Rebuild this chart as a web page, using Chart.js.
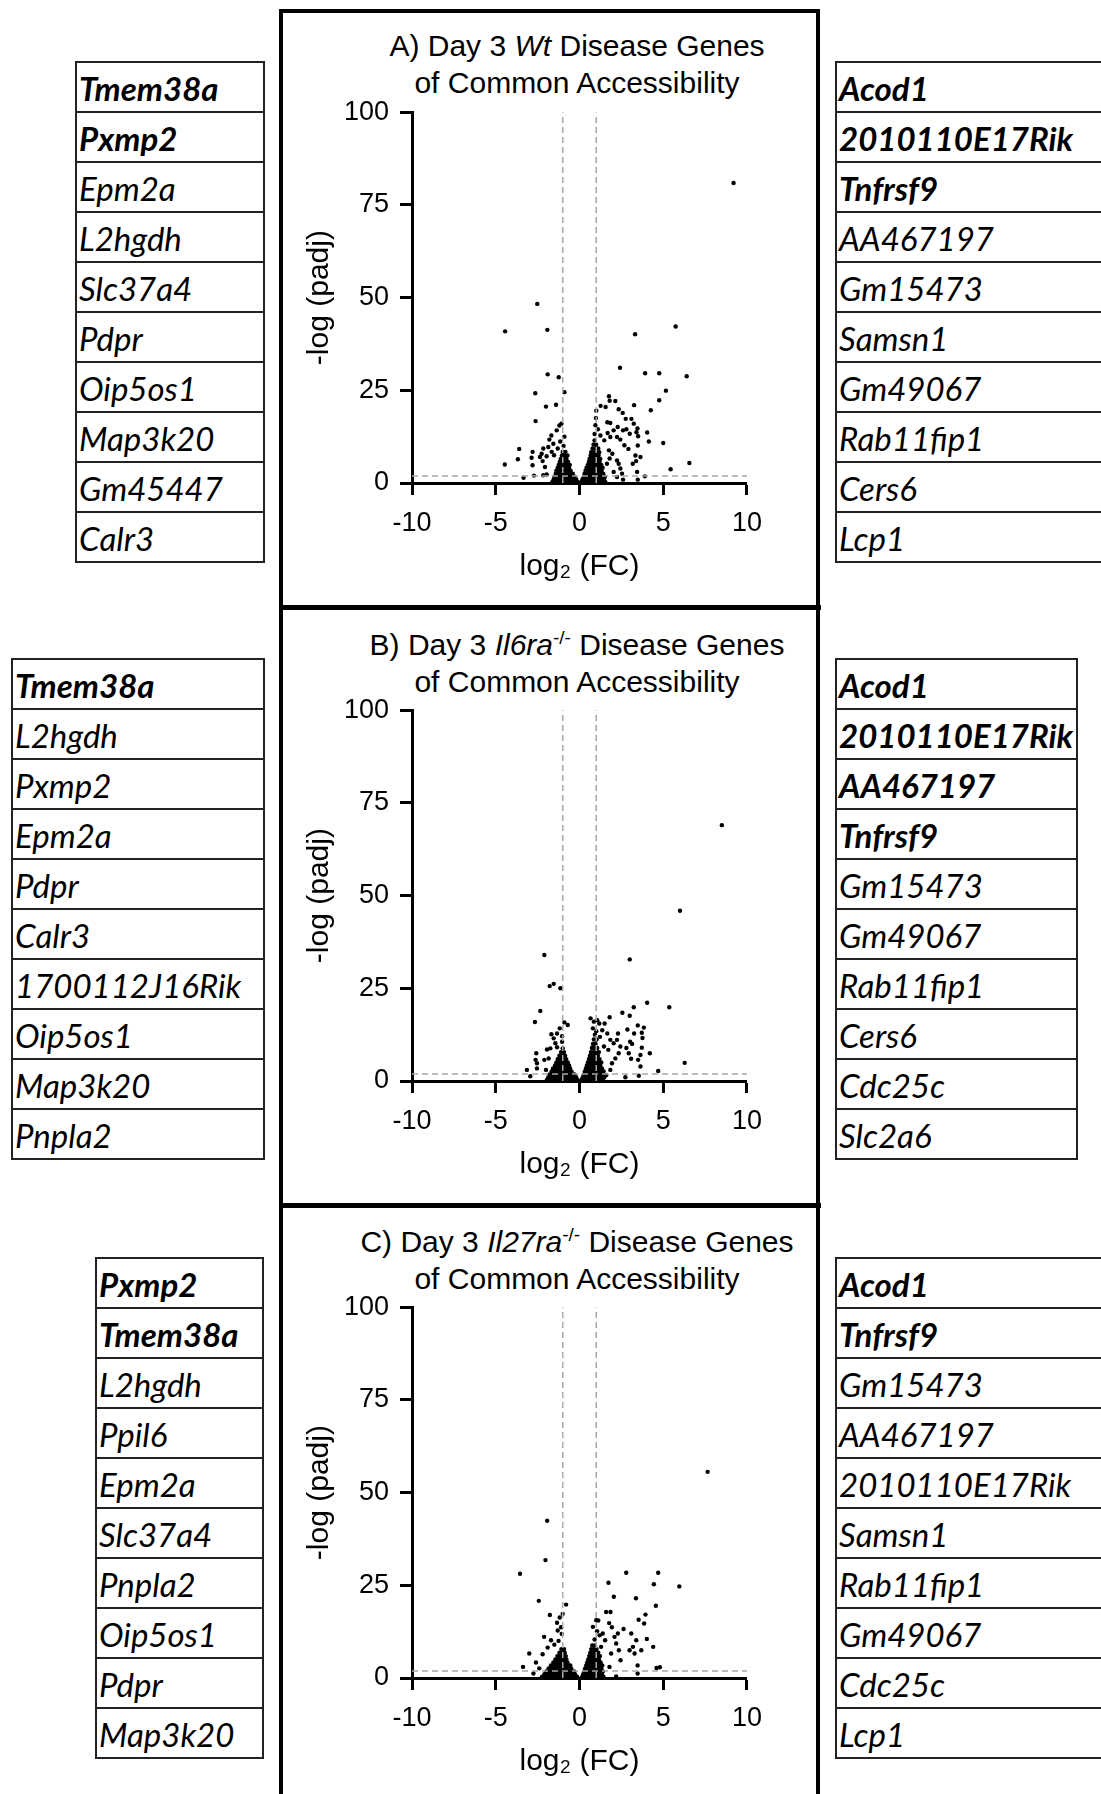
<!DOCTYPE html>
<html>
<head>
<meta charset="utf-8">
<script src="https://cdn.jsdelivr.net/npm/chart.js@4.4.1/dist/chart.umd.min.js"></script>
<style>
  html, body { margin: 0; padding: 0; background: #fff; }
  body { width: 1101px; height: 1794px; position: relative; overflow: hidden; font-family: "Liberation Sans", Arial, sans-serif; }
  .frame { position: absolute; left: 279px; top: 9px; width: 533px; height: 1800px; border: 4.5px solid #000; border-bottom: none; }
  .divider { position: absolute; left: 279px; width: 542px; height: 4.5px; background: #000; }
  .wrap { position: absolute; left: 300px; width: 474px; height: 504px; }
  .title { position: absolute; left: 327px; width: 500px; text-align: center; font-size: 30px; line-height: 37px; color: #000; white-space: nowrap; }
  .title sup { font-size: 19px; line-height: 0; }
  .genes { position: absolute; border: 2px solid #222; border-bottom: none; font-family: Lato, "Open Sans", sans-serif; font-style: italic; font-size: 33px; color: #000; overflow: hidden; }
  .genes div { height: 50px; line-height: 50px; border-bottom: 2px solid #222; box-sizing: border-box; padding-left: 2px; white-space: nowrap; }
  .genes div.b { font-weight: bold; }
</style>
</head>
<body>
<div class="frame"></div>
<div class="divider" style="top:605px"></div>
<div class="divider" style="top:1203px"></div>

<div class="title" style="top:27px">A) Day 3 <i>Wt</i> Disease Genes<br>of Common Accessibility</div>
<div class="title" style="top:626px">B) Day 3 <i>Il6ra</i><sup>-/-</sup> Disease Genes<br>of Common Accessibility</div>
<div class="title" style="top:1223px">C) Day 3 <i>Il27ra</i><sup>-/-</sup> Disease Genes<br>of Common Accessibility</div>

<div class="wrap" style="top:85px"><canvas id="chartA"></canvas></div>
<div class="wrap" style="top:683px"><canvas id="chartB"></canvas></div>
<div class="wrap" style="top:1280px"><canvas id="chartC"></canvas></div>

<div id="tblAL" class="genes" style="left:75px; top:61px; width:186px"></div>
<div id="tblAR" class="genes" style="left:835px; top:61px; width:300px"></div>
<div id="tblBL" class="genes" style="left:11px; top:658px; width:250px"></div>
<div id="tblBR" class="genes" style="left:835px; top:658px; width:239px"></div>
<div id="tblCL" class="genes" style="left:95px; top:1257px; width:165px"></div>
<div id="tblCR" class="genes" style="left:835px; top:1257px; width:300px"></div>

<script>
// gene lists next to each panel (first n are bold)
const genesAL = ['Tmem38a', 'Pxmp2', 'Epm2a', 'L2hgdh', 'Slc37a4', 'Pdpr', 'Oip5os1', 'Map3k20', 'Gm45447', 'Calr3'];
const genesAR = ['Acod1', '2010110E17Rik', 'Tnfrsf9', 'AA467197', 'Gm15473', 'Samsn1', 'Gm49067', 'Rab11fip1', 'Cers6', 'Lcp1'];
const genesBL = ['Tmem38a', 'L2hgdh', 'Pxmp2', 'Epm2a', 'Pdpr', 'Calr3', '1700112J16Rik', 'Oip5os1', 'Map3k20', 'Pnpla2'];
const genesBR = ['Acod1', '2010110E17Rik', 'AA467197', 'Tnfrsf9', 'Gm15473', 'Gm49067', 'Rab11fip1', 'Cers6', 'Cdc25c', 'Slc2a6'];
const genesCL = ['Pxmp2', 'Tmem38a', 'L2hgdh', 'Ppil6', 'Epm2a', 'Slc37a4', 'Pnpla2', 'Oip5os1', 'Pdpr', 'Map3k20'];
const genesCR = ['Acod1', 'Tnfrsf9', 'Gm15473', 'AA467197', '2010110E17Rik', 'Samsn1', 'Rab11fip1', 'Gm49067', 'Cdc25c', 'Lcp1'];
const boldCount = { AL: 2, AR: 3, BL: 1, BR: 4, CL: 2, CR: 2 };

// axes
const xTicks = [-10, -5, 0, 5, 10];
const yTicks = [0, 25, 50, 75, 100];
const fcCut = [-1, 1];
const padjCut = 1.9;

// panel A: [log2 FC, -log padj]
const aOutliers = [
  [9.2, 80.9], [-4.44, 40.9], [-2.52, 48.3], [-1.92, 41.3], [-1.9, 29.3], [-1.24, 28.5], [-0.9, 24.5],
  [-2.64, 24.2], [-2.0, 20.6], [-1.4, 21.1], [-2.62, 16.7], [3.32, 40.1], [5.74, 42.2], [2.42, 31.1],
  [3.92, 29.6], [4.76, 29.6], [6.4, 28.8], [5.16, 24.9], [4.76, 22.3], [4.26, 19.6], [3.26, 21.0],
  [4.04, 13.6], [4.14, 11.2], [5.0, 10.8], [5.44, 3.7], [6.56, 5.4], [3.9, 1.8], [-4.46, 5.0],
  [-3.6, 9.2], [-3.68, 6.4], [-3.34, 1.4],
  [1.76, 23.4], [1.8, 22.2], [2.14, 22.1], [1.56, 20.5], [1.26, 20.8], [1.0, 19.5], [0.98, 17.5],
  [2.34, 19.9], [2.58, 18.9], [2.76, 17.3], [3.1, 17.3], [3.24, 16.0], [3.46, 14.7], [3.4, 13.7],
  [3.5, 12.6], [3.48, 10.1], [3.34, 7.4], [3.64, 7.0], [3.38, 5.9], [3.18, 5.2], [3.44, 3.0], [3.48, 0.9],
  [1.66, 16.4], [1.84, 16.2], [2.28, 15.1], [2.6, 14.2], [2.04, 14.2], [2.8, 14.5], [3.0, 13.3],
  [2.24, 12.4], [2.44, 11.7], [2.68, 10.2], [2.92, 9.2], [1.68, 13.5], [1.84, 12.4], [1.48, 11.5],
  [1.76, 8.8], [1.96, 7.9], [2.24, 6.1], [2.34, 5.2], [2.44, 3.9], [2.54, 2.5], [2.24, 1.6], [2.6, 0.9],
  [2.04, 3.0], [1.8, 6.6], [1.64, 5.2], [1.1, 14.5], [0.9, 13.2], [1.25, 12.8], [0.95, 15.6],
  [-1.68, 12.8], [-1.36, 14.2], [-1.2, 15.5], [-1.08, 16.0], [-1.8, 11.7], [-2.16, 9.3], [-2.26, 7.9],
  [-2.36, 7.0], [-1.96, 7.2], [-1.66, 8.4], [-1.52, 7.5], [-2.8, 8.4], [-2.86, 6.8], [-2.8, 4.8],
  [-2.06, 4.3], [-1.96, 2.3], [-2.16, 2.1], [-2.72, 2.0], [-2.2, 5.9], [-1.86, 9.7], [-1.56, 10.6],
  [-1.3, 9.3], [-0.95, 10.0], [-1.15, 11.2], [-0.9, 12.5]
];
// dense blobs, one row per -log padj level: [y, [x, x, ...]]
const aLeftBlob = [
  [0.3, [-1.62, -1.45, -1.28, -1.11, -0.94, -0.77, -0.6, -0.44, -0.28, -0.12]],
  [1.0, [-1.54, -1.37, -1.2, -1.03, -0.86, -0.69, -0.52, -0.36, -0.2]],
  [1.7, [-1.5, -1.33, -1.16, -0.99, -0.82, -0.65, -0.48, -0.3]],
  [2.5, [-1.42, -1.25, -1.08, -0.91, -0.74, -0.57, -0.4]],
  [3.3, [-1.38, -1.21, -1.04, -0.87, -0.7, -0.53]],
  [4.1, [-1.3, -1.13, -0.96, -0.79, -0.62]],
  [4.9, [-1.24, -1.07, -0.9, -0.73, -0.58]],
  [5.7, [-1.18, -1.01, -0.84, -0.68]],
  [6.5, [-1.12, -0.95, -0.78]],
  [7.4, [-1.05, -0.88, -0.72]],
  [8.4, [-1.0, -0.84]]
];
const aRightBlob = [
  [0.3, [0.1, 0.26, 0.42, 0.58, 0.74, 0.9, 1.06, 1.22, 1.38, 1.54]],
  [1.0, [0.18, 0.34, 0.5, 0.66, 0.82, 0.98, 1.14, 1.3, 1.46]],
  [1.7, [0.26, 0.42, 0.58, 0.74, 0.9, 1.06, 1.22, 1.38, 1.52]],
  [2.5, [0.3, 0.46, 0.62, 0.78, 0.94, 1.1, 1.26, 1.42]],
  [3.3, [0.36, 0.52, 0.68, 0.84, 1.0, 1.16, 1.32]],
  [4.1, [0.42, 0.58, 0.74, 0.9, 1.06, 1.22, 1.38]],
  [4.9, [0.5, 0.66, 0.82, 0.98, 1.14, 1.3]],
  [5.7, [0.56, 0.72, 0.88, 1.04, 1.2]],
  [6.5, [0.6, 0.76, 0.92, 1.08, 1.24]],
  [7.4, [0.66, 0.82, 0.98, 1.14]],
  [8.3, [0.7, 0.86, 1.02, 1.18]],
  [9.3, [0.78, 0.96, 1.12]],
  [10.4, [0.84, 1.0]],
  [11.5, [0.9]]
];

// panel B
const bOutliers = [
  [8.5, 69.0], [6.0, 45.9], [3.0, 32.8], [-2.1, 34.0], [-1.78, 25.6], [-1.54, 26.2], [-1.14, 25.0],
  [-2.34, 18.9], [-2.66, 15.9], [4.04, 21.1], [5.36, 19.9], [3.24, 19.9], [2.56, 18.4], [3.0, 17.6],
  [1.8, 17.2], [6.28, 4.9], [4.7, 2.7], [4.2, 7.5], [3.84, 14.4], [3.48, 15.0], [3.72, 13.0],
  [3.76, 11.6], [3.72, 9.0], [3.64, 7.0], [3.5, 5.7], [3.64, 3.9], [3.54, 1.4], [2.86, 13.9],
  [3.26, 12.8], [3.02, 10.6], [3.14, 10.0], [2.8, 8.9], [2.94, 7.5], [3.08, 6.0], [2.74, 1.0],
  [2.3, 12.8], [2.24, 11.1], [2.04, 10.2], [1.84, 11.1], [2.44, 9.3], [2.34, 7.5], [2.14, 6.1],
  [1.94, 4.8], [1.84, 3.0], [1.6, 1.6], [1.5, 15.5], [1.36, 13.7], [1.22, 11.9], [1.66, 12.8],
  [1.46, 9.3], [1.72, 8.4], [0.66, 16.9], [0.86, 16.0], [1.06, 16.4], [1.18, 15.5], [0.8, 14.2], [1.0, 13.4],
  [-0.9, 15.8], [-0.7, 15.1], [-1.18, 14.2], [-1.34, 12.8], [-1.68, 12.6], [-1.04, 12.1], [-1.54, 11.5],
  [-1.44, 10.2], [-1.94, 8.5], [-1.74, 8.8], [-1.34, 9.1], [-1.04, 10.6], [-2.58, 7.5], [-2.62, 5.7],
  [-2.54, 4.8], [-2.54, 3.4], [-3.14, 3.0], [-2.94, 1.3], [-2.1, 5.7], [-2.0, 3.0], [-1.84, 6.1]
];
const bLeftBlob = [
  [0.3, [-1.95, -1.78, -1.61, -1.44, -1.27, -1.1, -0.93, -0.76, -0.6, -0.44, -0.28, -0.12]],
  [1.0, [-1.86, -1.69, -1.52, -1.35, -1.18, -1.01, -0.84, -0.68, -0.52, -0.36, -0.2]],
  [1.8, [-1.78, -1.61, -1.44, -1.27, -1.1, -0.93, -0.76, -0.6, -0.44, -0.3]],
  [2.6, [-1.66, -1.49, -1.32, -1.15, -0.98, -0.81, -0.64, -0.48]],
  [3.4, [-1.58, -1.41, -1.24, -1.07, -0.9, -0.73, -0.56]],
  [4.2, [-1.46, -1.29, -1.12, -0.95, -0.78, -0.62]],
  [5.0, [-1.38, -1.21, -1.04, -0.87, -0.7]],
  [5.9, [-1.3, -1.13, -0.96, -0.79]],
  [6.8, [-1.2, -1.03, -0.86]],
  [7.8, [-1.1, -0.93]],
  [8.8, [-1.0]]
];
const bRightBlob = [
  [0.3, [0.12, 0.28, 0.44, 0.6, 0.76, 0.92, 1.08, 1.24, 1.4]],
  [1.0, [0.2, 0.36, 0.52, 0.68, 0.84, 1.0, 1.16, 1.32, 1.48]],
  [1.8, [0.26, 0.42, 0.58, 0.74, 0.9, 1.06, 1.22, 1.38]],
  [2.6, [0.32, 0.48, 0.64, 0.8, 0.96, 1.12, 1.28, 1.44]],
  [3.4, [0.38, 0.54, 0.7, 0.86, 1.02, 1.18, 1.34]],
  [4.2, [0.44, 0.6, 0.76, 0.92, 1.08, 1.24]],
  [5.0, [0.5, 0.66, 0.82, 0.98, 1.14, 1.3]],
  [5.9, [0.56, 0.72, 0.88, 1.04, 1.2]],
  [6.8, [0.62, 0.78, 0.94, 1.1]],
  [7.8, [0.68, 0.84, 1.0, 1.16]],
  [8.9, [0.74, 0.9, 1.06]],
  [10.0, [0.8, 0.96]],
  [11.2, [0.86, 1.02]],
  [12.5, [0.92]]
];

// panel C
const cOutliers = [
  [7.65, 55.6], [-1.93, 42.4], [-2.03, 31.8], [-3.55, 28.1], [-2.43, 20.8], [-1.77, 17.0], [-2.11, 11.1],
  [-3.0, 6.6], [-3.37, 3.0], [-0.8, 19.8], [-1.0, 17.3], [-1.18, 16.3], [-1.34, 14.9], [-1.1, 13.7],
  [-1.3, 12.8], [-1.06, 11.9], [2.79, 28.4], [4.7, 28.4], [1.73, 25.7], [4.44, 25.3], [5.96, 24.7],
  [2.05, 21.9], [3.37, 21.5], [4.56, 19.5], [1.59, 17.8], [1.85, 17.8], [3.94, 17.1], [3.53, 15.7],
  [3.86, 14.7], [1.77, 14.8], [1.0, 15.6], [1.12, 15.5], [1.93, 13.7], [2.63, 13.2], [4.02, 10.5],
  [4.4, 8.4], [3.09, 12.0], [3.39, 10.2], [3.19, 8.4], [3.29, 6.6], [2.99, 7.5], [3.69, 7.5],
  [3.47, 3.4], [3.47, 1.2], [4.6, 2.7], [4.8, 2.9], [2.09, 11.1], [2.29, 12.0], [2.19, 9.3],
  [2.35, 7.5], [2.45, 4.8], [2.19, 0.4], [1.89, 6.6], [1.79, 3.0], [1.39, 12.0], [1.53, 10.2],
  [1.29, 8.4], [1.2, 11.5], [-2.6, 4.2], [-2.4, 2.6], [-2.75, 1.2], [-2.2, 6.4], [-1.9, 8.2],
  [-1.5, 9.0], [-1.7, 10.2], [-1.25, 10.0], [0.9, 10.4], [1.05, 12.6], [0.8, 13.8]
];
const cLeftBlob = [
  [0.3, [-2.25, -2.08, -1.91, -1.74, -1.57, -1.4, -1.23, -1.06, -0.89, -0.72, -0.56, -0.4, -0.26, -0.13]],
  [1.0, [-2.1, -1.93, -1.76, -1.59, -1.42, -1.25, -1.08, -0.91, -0.74, -0.58, -0.42, -0.26]],
  [1.8, [-1.98, -1.81, -1.64, -1.47, -1.3, -1.13, -0.96, -0.79, -0.62, -0.46, -0.32]],
  [2.6, [-1.84, -1.67, -1.5, -1.33, -1.16, -0.99, -0.82, -0.65, -0.5]],
  [3.4, [-1.7, -1.53, -1.36, -1.19, -1.02, -0.85, -0.68, -0.55]],
  [4.2, [-1.56, -1.39, -1.22, -1.05, -0.88, -0.72]],
  [5.0, [-1.44, -1.27, -1.1, -0.93, -0.78]],
  [5.9, [-1.32, -1.15, -0.98, -0.82]],
  [6.8, [-1.2, -1.03, -0.88]],
  [7.8, [-1.08, -0.92]]
];
const cRightBlob = [
  [0.3, [0.16, 0.32, 0.48, 0.64, 0.8, 0.96, 1.12, 1.28, 1.44]],
  [1.0, [0.22, 0.38, 0.54, 0.7, 0.86, 1.02, 1.18, 1.34]],
  [1.8, [0.28, 0.44, 0.6, 0.76, 0.92, 1.08, 1.24, 1.4]],
  [2.6, [0.34, 0.5, 0.66, 0.82, 0.98, 1.14, 1.3]],
  [3.4, [0.4, 0.56, 0.72, 0.88, 1.04, 1.2, 1.36]],
  [4.2, [0.46, 0.62, 0.78, 0.94, 1.1, 1.26]],
  [5.0, [0.52, 0.68, 0.84, 1.0, 1.16]],
  [5.9, [0.58, 0.74, 0.9, 1.06, 1.22]],
  [6.8, [0.64, 0.8, 0.96, 1.12]],
  [7.8, [0.7, 0.86, 1.02]],
  [8.8, [0.76, 0.92]]
];

const FONT = "'Liberation Sans', Arial, sans-serif";

function fillTable(id, genes, nBold) {
  const el = document.getElementById(id);
  genes.forEach(function (g, i) {
    const row = document.createElement('div');
    row.textContent = g;
    if (i < nBold) row.className = 'b';
    el.appendChild(row);
  });
}

function blobPoints(rows) {
  const out = [];
  rows.forEach(function (r) {
    r[1].forEach(function (x) { out.push([x, r[0]]); });
  });
  return out;
}

function toXY(pairs) {
  return pairs.map(function (p) { return { x: p[0], y: p[1] }; });
}

function volcanoChart(ctx, points) {
  const dash = { borderColor: '#a8a8a8', borderWidth: 1.5, borderDash: [6, 4], pointRadius: 0, showLine: true, fill: false };
  const lines = [
    Object.assign({ data: [{ x: fcCut[0], y: yTicks[0] }, { x: fcCut[0], y: yTicks[4] }] }, dash),
    Object.assign({ data: [{ x: fcCut[1], y: yTicks[0] }, { x: fcCut[1], y: yTicks[4] }] }, dash),
    Object.assign({ data: [{ x: xTicks[0], y: padjCut }, { x: xTicks[4], y: padjCut }] }, dash)
  ];
  const chart = new Chart(ctx, {
    type: 'scatter',
    data: {
      datasets: lines.concat([{
        label: 'genes',
        data: toXY(points),
        backgroundColor: '#000',
        borderWidth: 0,
        pointRadius: 2.2,
        clip: false
      }])
    },
    options: {
      responsive: true,
      maintainAspectRatio: false,
      animation: false,
      layout: { padding: { top: 19, right: 20, bottom: 0, left: 0 } },
      plugins: { legend: { display: false }, tooltip: { enabled: false } },
      scales: {
        x: {
          type: 'linear', min: -10, max: 10,
          afterFit: function (s) { s.height = 106; },
          afterBuildTicks: function (s) { s.ticks = xTicks.map(function (v) { return { value: v }; }); },
          ticks: { color: '#000', font: { family: FONT, size: 27 }, padding: 12, maxRotation: 0 },
          grid: { drawOnChartArea: false, tickLength: 12, tickWidth: 3, tickColor: '#000' },
          border: { color: '#000', width: 3 },
          title: { display: true, text: 'log\u2082 (FC)', color: '#000', font: { family: FONT, size: 30 }, padding: { top: 0, bottom: 4 } }
        },
        y: {
          type: 'linear', min: 0, max: 100,
          afterFit: function (s) { s.width = 112; },
          afterBuildTicks: function (s) { s.ticks = yTicks.map(function (v) { return { value: v }; }); },
          ticks: { color: '#000', font: { family: FONT, size: 27 }, padding: 11 },
          grid: { drawOnChartArea: false, tickLength: 12, tickWidth: 3, tickColor: '#000' },
          border: { color: '#000', width: 3 },
          title: { display: true, text: '-log (padj)', color: '#000', font: { family: FONT, size: 30 }, padding: { top: 2, bottom: 0 } }
        }
      }
    }
  });
  return chart;
}

fillTable('tblAL', genesAL, boldCount.AL);
fillTable('tblAR', genesAR, boldCount.AR);
fillTable('tblBL', genesBL, boldCount.BL);
fillTable('tblBR', genesBR, boldCount.BR);
fillTable('tblCL', genesCL, boldCount.CL);
fillTable('tblCR', genesCR, boldCount.CR);

var chartA = volcanoChart(document.getElementById('chartA'), aOutliers.concat(blobPoints(aLeftBlob), blobPoints(aRightBlob)));
var chartB = volcanoChart(document.getElementById('chartB'), bOutliers.concat(blobPoints(bLeftBlob), blobPoints(bRightBlob)));
var chartC = volcanoChart(document.getElementById('chartC'), cOutliers.concat(blobPoints(cLeftBlob), blobPoints(cRightBlob)));
</script>
</body>
</html>
